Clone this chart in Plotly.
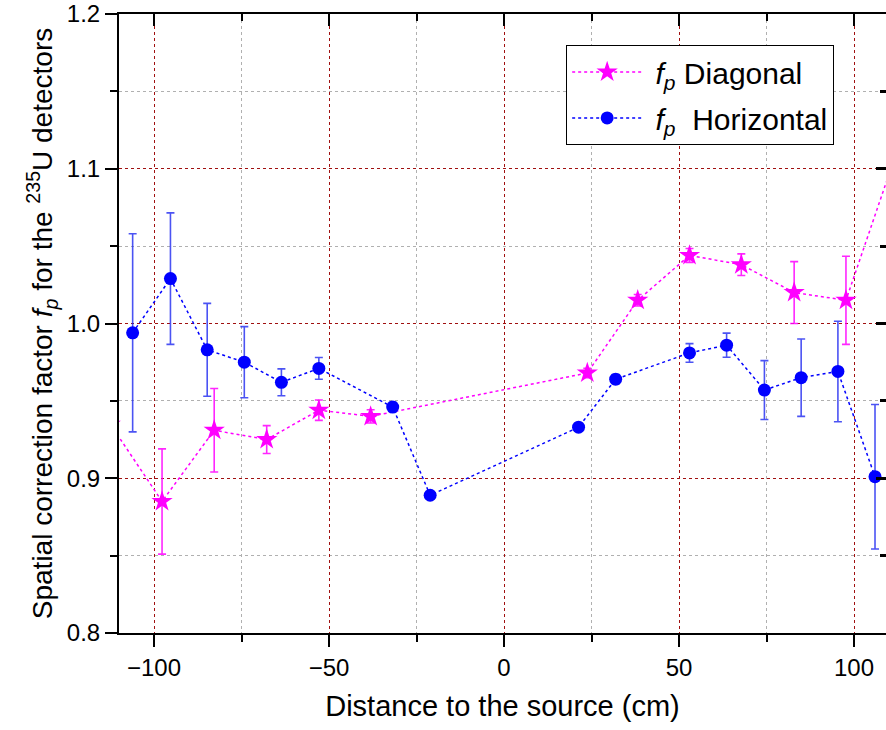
import plotly.graph_objects as go

# ---- data ----
diag_x = [-112.5, -97.7, -82.8, -67.8, -52.9, -38.1, 23.8, 38.2, 53.0, 67.8, 82.9, 97.7, 112.5]
diag_y = [0.935, 0.885, 0.931, 0.925, 0.944, 0.940, 0.968, 1.015, 1.044, 1.038, 1.020, 1.015, 1.113]
diag_err = [0.030, 0.034, 0.027, 0.009, 0.0066, 0.0043, 0.003, 0.0037, 0.0045, 0.007, 0.020, 0.0285, 0.030]

hor_x = [-106.1, -95.3, -84.8, -74.2, -63.6, -52.9, -31.8, -21.1, 21.3, 31.9, 53.0, 63.6, 74.4, 84.9, 95.4, 106.0]
hor_y = [0.994, 1.029, 0.983, 0.975, 0.962, 0.971, 0.946, 0.889, 0.933, 0.964, 0.981, 0.986, 0.957, 0.965, 0.969, 0.901]
hor_err = [0.064, 0.0425, 0.030, 0.023, 0.0087, 0.007, 0.003, 0.002, 0.002, 0.003, 0.006, 0.0078, 0.019, 0.025, 0.0325, 0.0467]

x_ticks = [-100, -50, 0, 50, 100]
y_ticks = [0.8, 0.9, 1.0, 1.1, 1.2]

FONT = "Liberation Sans, Arial, sans-serif"
MAJOR_GRID = "#a01010"
MINOR_GRID = "#b0b0b0"

fig = go.Figure()

fig.add_trace(go.Scatter(
    x=diag_x, y=diag_y, mode="lines+markers",
    name="&nbsp;<i>f</i><sub><i>p</i></sub> Diagonal",
    legendgroup="a",
    line=dict(color="#ff00ff", width=1.5, dash="dot"),
    marker=dict(symbol="star", size=16, color="#ff00ff"),
    error_y=dict(type="data", array=diag_err, visible=True,
                 color="rgba(255,0,255,0.85)", thickness=1.6, width=4),
))
fig.add_trace(go.Scatter(
    x=hor_x, y=hor_y, mode="lines+markers",
    name="&nbsp;<i>f</i><sub><i>p</i></sub>  Horizontal",
    legendgroup="b",
    line=dict(color="#0000ff", width=1.5, dash="dot"),
    marker=dict(symbol="circle", size=13, color="#0000ff"),
    error_y=dict(type="data", array=hor_err, visible=True,
                 color="rgba(30,40,240,0.8)", thickness=1.6, width=4),
))
# invisible trace for mirrored axes
fig.add_trace(go.Scatter(x=[None], y=[None], xaxis="x2", yaxis="y2",
                         showlegend=False, hoverinfo="skip"))

xr = [-110, 109.14]
yr = [0.8, 1.2]

fig.update_layout(
    width=886, height=730,
    margin=dict(l=119, r=0, t=14, b=97),
    paper_bgcolor="white", plot_bgcolor="white",
    font=dict(family=FONT, color="black"),
    showlegend=True,
    legend=dict(
        x=0.583, y=0.95, xanchor="left", yanchor="top",
        bgcolor="white", bordercolor="black", borderwidth=1,
        font=dict(size=30, family=FONT), itemwidth=70,
        traceorder="grouped", tracegroupgap=4,
    ),
    xaxis=dict(
        range=xr, tickvals=x_ticks, ticks="outside", ticklen=12, tickwidth=2,
        tickcolor="black", showline=True, linecolor="black", linewidth=2,
        tickfont=dict(size=24), zeroline=False,
        showgrid=True, gridcolor=MAJOR_GRID, griddash="dot", gridwidth=1.3,
        minor=dict(dtick=25, tick0=0, ticks="outside", ticklen=7, tickwidth=2,
                   tickcolor="black", showgrid=True, gridcolor=MINOR_GRID,
                   griddash="dot", gridwidth=1.3),
        title=dict(text="Distance to the source (cm)", font=dict(size=29), standoff=16),
    ),
    yaxis=dict(
        range=yr, tickvals=y_ticks, ticktext=["0.8", "0.9", "1.0", "1.1", "1.2"],
        ticks="outside", ticklen=12, tickwidth=2,
        tickcolor="black", showline=True, linecolor="black", linewidth=2,
        tickfont=dict(size=24), zeroline=False,
        showgrid=True, gridcolor=MAJOR_GRID, griddash="dot", gridwidth=1.3,
        minor=dict(dtick=0.05, tick0=0.8, ticks="outside", ticklen=7, tickwidth=2,
                   tickcolor="black", showgrid=True, gridcolor=MINOR_GRID,
                   griddash="dot", gridwidth=1.3),
        title=dict(text="Spatial correction factor <i>f</i><sub><i>p</i></sub> for the <sup>235</sup>U detectors",
                   font=dict(size=28), standoff=6),
    ),
    xaxis2=dict(
        overlaying="x", side="top", range=xr, tickvals=x_ticks, ticks="inside",
        ticklen=12, tickwidth=2, tickcolor="black", showline=True,
        linecolor="black", linewidth=2, showticklabels=False, showgrid=False,
        zeroline=False,
        minor=dict(dtick=25, tick0=0, ticks="inside", ticklen=7, tickwidth=2,
                   tickcolor="black", showgrid=False),
    ),
    yaxis2=dict(
        overlaying="y", side="right", range=yr, tickvals=y_ticks, ticks="inside",
        ticklen=10, tickwidth=3, tickcolor="black", showline=False,
        showticklabels=False, showgrid=False, zeroline=False,
        minor=dict(dtick=0.05, tick0=0.8, ticks="inside", ticklen=6, tickwidth=3,
                   tickcolor="black", showgrid=False),
    ),
)

fig.write_html("out.html")
